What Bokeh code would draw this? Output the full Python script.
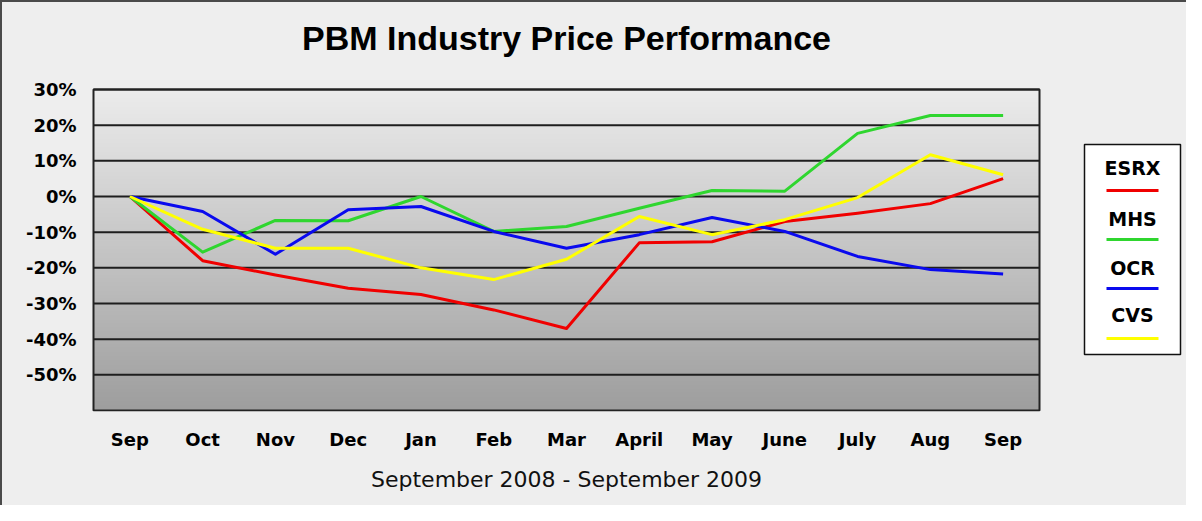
import numpy as np
from bokeh.plotting import figure
from bokeh.layouts import row
from bokeh.models import FixedTicker, PrintfTickFormatter, Range1d, Title
from bokeh.core.properties import value
from bokeh.embed import file_html
from bokeh.resources import INLINE

# ---------------- data ----------------
months = ["Sep", "Oct", "Nov", "Dec", "Jan", "Feb", "Mar",
          "April", "May", "June", "July", "Aug", "Sep"]
esrx = [0, -18.0, -22.0, -25.7, -27.5, -31.8, -37.0, -13.0, -12.7, -7.0, -4.7, -2.0, 5.0]
mhs = [0, -15.6, -6.7, -6.8, 0.0, -9.8, -8.4, -3.3, 1.7, 1.5, 17.7, 22.7, 22.7]
ocr = [0, -4.2, -16.2, -3.7, -2.8, -9.8, -14.5, -10.7, -5.9, -9.8, -16.8, -20.5, -21.7]
cvs = [0, -9.2, -14.5, -14.5, -20.0, -23.3, -17.6, -5.6, -10.7, -6.5, -0.3, 11.7, 6.1]
series_names = ["ESRX", "MHS", "OCR", "CVS"]
y_ticks = [-50, -40, -30, -20, -10, 0, 10, 20, 30]
title_text = "PBM Industry Price Performance"
subtitle_text = "September 2008 - September 2009"

# ---------------- layout (pixels inside the 2px chart border) ----------------
W, H = 1184, 503
PADL, PADB = 3, 1                         # frame padding left/below the plot box
PL, PT, PR, PB = 91, 87, 1037, 408        # plot box edges
L, B = PL - PADL, H - PB - PADB
x0, x1 = -0.5, len(months) - 0.5
y0, y1 = -60, 30
sx = (PR - PL) / (x1 - x0)
sy = (PB - PT) / (y1 - y0)
xr = (x0 - PADL / sx, x0 + (W - PL) / sx)
yr = (y0 - PADB / sy, y1 + PT / sy)


def dx(px):
    return x0 + (px - PL) / sx


def dy(py):
    return y1 - (py - PT) / sy


colors = ["#f00000", "#2fd62f", "#0a0aee", "#ffff00"]
BOLD = "DejaVu Sans"
BG = "#EEEEEE"
center_px = (PL + PR) / 2

p = figure(width=W, height=H, x_range=Range1d(*xr), y_range=Range1d(*yr),
           output_backend="svg", toolbar_location=None, title=None,
           min_border_left=L, min_border_right=0, min_border_top=0, min_border_bottom=B,
           background_fill_color=BG, border_fill_color=BG)
p.outline_line_color = None

# chart title
p.text(x=[dx(center_px)], y=[dy(35)], text=[title_text], text_align="center",
       text_baseline="middle", text_font=value("Liberation Sans"), text_font_style="bold",
       text_font_size="34px", text_color="#000000")

# gradient plot area
n = 256
shade = np.linspace(158, 236, n).astype(np.uint8)
img = np.empty((n, 1), dtype=np.uint32)
view = img.view(dtype=np.uint8).reshape((n, 1, 4))
view[:, 0, 0] = shade
view[:, 0, 1] = shade
view[:, 0, 2] = shade
view[:, 0, 3] = 255
p.image_rgba(image=[img], x=x0, y=y0, dw=x1 - x0, dh=y1 - y0, level="image")

# horizontal grid lines + plot box
p.grid.visible = False
p.segment(x0=[x0] * len(y_ticks), x1=[x1] * len(y_ticks), y0=y_ticks, y1=y_ticks,
          line_color="#1e1e1e", line_width=2)
p.quad(left=[x0], right=[x1], bottom=[y0], top=[y1], fill_color=None,
       line_color="#222222", line_width=2)

# y axis
p.yaxis.ticker = FixedTicker(ticks=y_ticks)
p.yaxis.formatter = PrintfTickFormatter(format="%d%%")
p.yaxis.axis_line_color = None
p.yaxis.major_tick_line_color = None
p.yaxis.minor_tick_line_color = None
p.yaxis.major_tick_out = 0
p.yaxis.major_label_standoff = 14
p.yaxis.major_label_text_font = BOLD
p.yaxis.major_label_text_font_style = "bold"
p.yaxis.major_label_text_font_size = "18px"
p.yaxis.major_label_text_color = "#000000"

# x axis
xs = list(range(len(months)))
p.xaxis.ticker = FixedTicker(ticks=xs)
p.xaxis.major_label_overrides = {i: m for i, m in enumerate(months)}
p.xaxis.axis_line_color = None
p.xaxis.major_tick_line_color = None
p.xaxis.minor_tick_line_color = None
p.xaxis.major_tick_out = 0
p.xaxis.major_label_standoff = 17
p.xaxis.major_label_text_font = BOLD
p.xaxis.major_label_text_font_style = "bold"
p.xaxis.major_label_text_font_size = "18px"
p.xaxis.major_label_text_color = "#000000"

sub_w = 391
p.add_layout(Title(text=subtitle_text, align="left", offset=center_px - sub_w / 2 - L,
                   text_font="DejaVu Sans", text_font_style="normal",
                   text_font_size="22px", text_color="#111111", standoff=24), "below")

# lines
for vals_s, col in zip([esrx, mhs, ocr, cvs], colors):
    p.line(xs, vals_s, line_color=col, line_width=3, line_join="round")

# ---------------- legend (label above line sample) ----------------
box_l, box_r, box_t, box_b = 1082, 1178, 142, 352
text_y = [165, 216, 265, 312]
line_y = [188, 237, 286, 336]
cx = (box_l + box_r) / 2
p.quad(left=[dx(box_l)], right=[dx(box_r)], top=[dy(box_t)], bottom=[dy(box_b)],
       fill_color="white", line_color="#111111", line_width=1.5)
p.text(x=[dx(cx)] * 4, y=[dy(v) for v in text_y], text=series_names, text_align="center",
       text_baseline="middle", text_font=value(BOLD), text_font_style="bold",
       text_font_size="19px", text_color="#000000")
p.segment(x0=[dx(cx - 26)] * 4, x1=[dx(cx + 26)] * 4,
          y0=[dy(v) for v in line_y], y1=[dy(v) for v in line_y],
          line_color=colors, line_width=3)

layout = row(p, styles={"border-top": "2px solid #4a4a4a",
                        "border-left": "2px solid #4a4a4a",
                        "background-color": BG})

open("out.html", "w").write(file_html(layout, INLINE))
